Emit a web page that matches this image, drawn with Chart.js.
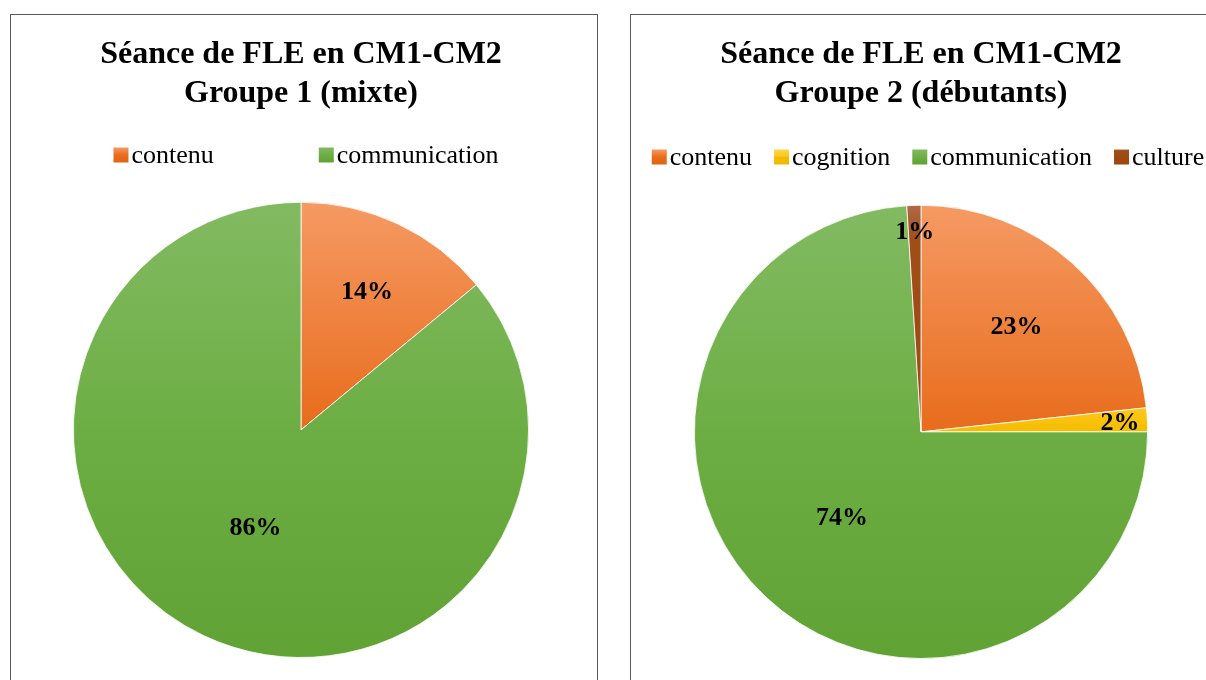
<!DOCTYPE html>
<html>
<head>
<meta charset="utf-8">
<script src="https://cdn.jsdelivr.net/npm/chart.js@4/dist/chart.umd.min.js"></script>
<style>
	body { margin: 0; background: #fff; width: 1206px; height: 680px; overflow: hidden; position: relative; }
	.box { position: absolute; top: 14px; height: 720px; border: 1px solid #595959; box-sizing: border-box; background: #fff; }
	#box1 { left: 10px; width: 588px; }
	#box2 { left: 630px; width: 584px; }
	canvas { display: block; }
</style>
</head>
<body>
<div class="box" id="box1"><canvas id="chart1" width="586" height="700"></canvas></div>
<div class="box" id="box2"><canvas id="chart2" width="582" height="700"></canvas></div>
<script>
// group 1 (mixte)
var labels1 = ['contenu', 'communication'];
var values1 = [14, 86];
var title1 = ['Séance de FLE en CM1-CM2', 'Groupe 1 (mixte)'];

// group 2 (débutants)
var labels2 = ['contenu', 'cognition', 'communication', 'culture'];
var values2 = [23.3, 1.7, 74, 1.0];
var title2 = ['Séance de FLE en CM1-CM2', 'Groupe 2 (débutants)'];

var SERIF = '"Liberation Serif", "Times New Roman", serif';

/* Office-like vertical gradients, keyed by category */
var palette = {
	contenu: [[0, '#F59A63'], [0.5, '#E86C1C'], [1, '#E0660F']],
	cognition: [[0, '#FFD54A'], [0.44, '#FFCA1E'], [0.5, '#F4BC00'], [1, '#F0B800']],
	communication: [[0, '#82BA62'], [0.5, '#6DAE44'], [1, '#60A234']],
	culture: [[0, '#AE6A48'], [0.08, '#A04D18'], [1, '#9A460C']]
};

function makeGradient(ctx, name, top, bottom) {
	var g = ctx.createLinearGradient(0, top, 0, bottom);
	palette[name].forEach(function (s) { g.addColorStop(s[0], s[1]); });
	return g;
}

function sliceColor(labels) {
	return function (context) {
		var chart = context.chart;
		var area = chart.chartArea;
		var name = labels[context.dataIndex];
		if (!area) {
			return palette[name][1][1];
		}
		var cy = (area.top + area.bottom) / 2;
		var r = Math.min(area.right - area.left, area.bottom - area.top) / 2;
		return makeGradient(chart.ctx, name, cy - r, cy + r);
	};
}

/* Legend drawn in one row, with a configurable gap between entries */
var rowLegend = {
	id: 'rowLegend',
	afterDraw: function (chart, args, opts) {
		var ctx = chart.ctx;
		var names = chart.data.labels;
		ctx.save();
		ctx.font = opts.size + 'px ' + SERIF;
		ctx.textBaseline = 'middle';
		ctx.textAlign = 'left';
		var widths = names.map(function (n) { return opts.box + opts.textGap + ctx.measureText(n).width; });
		var total = widths.reduce(function (a, b) { return a + b; }, 0) + opts.gap * (names.length - 1);
		var x = chart.width / 2 + (opts.shift || 0) - total / 2;
		names.forEach(function (n, i) {
			var top = opts.y - opts.box / 2;
			ctx.fillStyle = makeGradient(ctx, n, top, top + opts.box);
			ctx.fillRect(x, top, opts.box, opts.box);
			ctx.fillStyle = '#000';
			ctx.fillText(n, x + opts.box + opts.textGap, opts.y + 1);
			x += widths[i] + opts.gap;
		});
		ctx.restore();
	}
};

/* Percent labels inside the slices */
var pctLabels = {
	id: 'pctLabels',
	afterDatasetsDraw: function (chart, args, opts) {
		var ctx = chart.ctx;
		var data = chart.data.datasets[0].data;
		var total = data.reduce(function (a, b) { return a + b; }, 0);
		var arcs = chart.getDatasetMeta(0).data;
		ctx.save();
		ctx.font = 'bold ' + opts.size + 'px ' + SERIF;
		ctx.fillStyle = '#000';
		ctx.textAlign = 'center';
		ctx.textBaseline = 'middle';
		arcs.forEach(function (arc, i) {
			var p = arc.getProps(['x', 'y', 'startAngle', 'endAngle', 'outerRadius'], true);
			var mid = (p.startAngle + p.endAngle) / 2;
			var r = p.outerRadius * opts.radius[i];
			var text = Math.round(data[i] / total * 100) + '%';
			ctx.fillText(text, p.x + Math.cos(mid) * r, p.y + Math.sin(mid) * r + 2);
		});
		ctx.restore();
	}
};

function buildPie(id, labels, values, title, layout, legendOpts, labelRadius) {
	return new Chart(document.getElementById(id), {
		type: 'pie',
		data: {
			labels: labels,
			datasets: [{
				data: values,
				backgroundColor: sliceColor(labels),
				borderColor: '#ffffff',
				borderWidth: 0.8
			}]
		},
		options: {
			responsive: false,
			animation: false,
			events: [],
			layout: { padding: layout.padding },
			plugins: {
				legend: { display: false },
				tooltip: { enabled: false },
				title: {
					display: true,
					text: title,
					color: '#000',
					font: { family: SERIF, size: 32, weight: 'bold', lineHeight: 1.2 },
					padding: { top: 21, bottom: layout.titleBottom }
				},
				rowLegend: legendOpts,
				pctLabels: { size: 26, radius: labelRadius }
			}
		},
		plugins: [rowLegend, pctLabels]
	});
}

buildPie('chart1', labels1, values1, title1,
	{ padding: { left: 62, right: 68, bottom: 57 }, titleBottom: 89 },
	{ y: 140, box: 15, textGap: 3, gap: 105, size: 26, shift: 2 },
	[0.68, 0.47]);

buildPie('chart2', labels2, values2, title2,
	{ padding: { left: 63, right: 65, bottom: 56 }, titleBottom: 92 },
	{ y: 142, box: 15, textGap: 3, gap: 22, size: 26, shift: 6 },
	[0.63, 0.88, 0.51, 0.89]);
</script>
</body>
</html>
